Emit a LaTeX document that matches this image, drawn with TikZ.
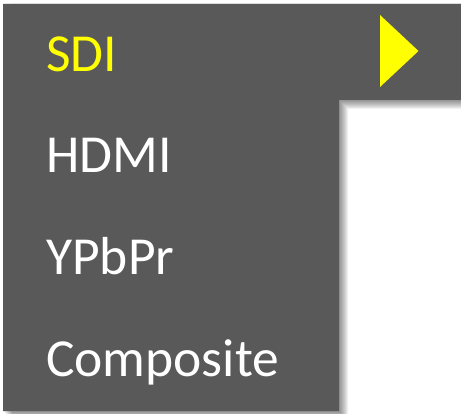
\documentclass[tikz,border=0pt]{standalone}
\usepackage{fontspec}
\setmainfont{Carlito}
\definecolor{menugray}{HTML}{595959}
\definecolor{selyellow}{HTML}{FFFF00}
\tikzset{
  menuitem/.style={anchor=base west, inner sep=0pt, text=white, font=\fontsize{53.5}{60}\selectfont},
  selitem/.style={menuitem, text=selyellow},
  menushape/.style={fill=menugray, draw=none},
  shadowlayer/.style={fill=black, fill opacity=0.055, draw=none}
}
\begin{document}
\begin{tikzpicture}[x=1pt,y=-1pt]
\useasboundingbox (0,0) rectangle (461,414);
\fill[white] (0,0) rectangle (461,414);
\foreach \k in {1,...,9}{
  \fill[shadowlayer] (3+\k,4) -- (461,4) -- (461,100+\k) -- (339+\k,100+\k) -- (339+\k,411+\k) -- (3+\k,411+\k) -- cycle;
}
\fill[menushape] (3,4) -- (461,4) -- (461,100) -- (339,100) -- (339,411) -- (3,411) -- cycle;
\fill[selyellow] (380,15) -- (418.5,51) -- (380,87) -- cycle;
\node[selitem] (sdi) at (46,72) {SDI};
\node[menuitem] (hdmi) at (46,173) {HDMI};
\node[menuitem] (ypbpr) at (46,275) {YPbPr};
\node[menuitem] (comp) at (46,377) {Composite};
\end{tikzpicture}
\end{document}
